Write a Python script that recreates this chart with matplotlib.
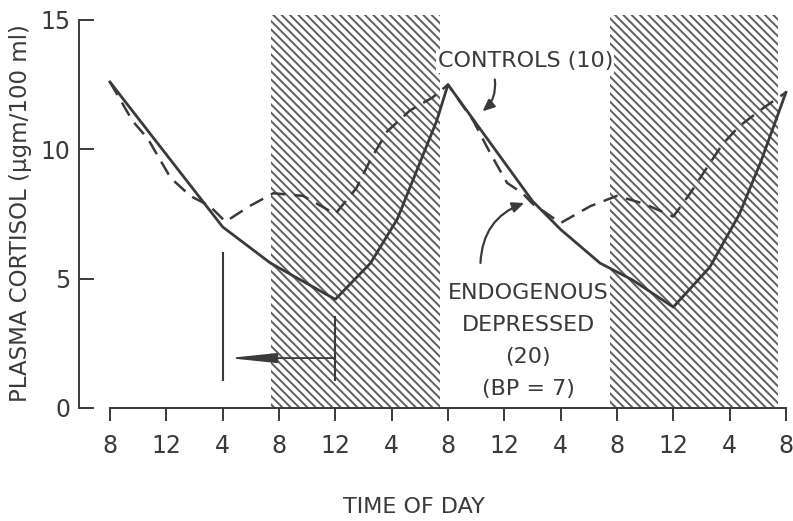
import numpy as np
import matplotlib
matplotlib.use('Agg')
import matplotlib.pyplot as plt

# hours after 8 a.m. of day 1
tick_hours = list(range(0, 49, 4))
tick_labels = ['8', '12', '4'] * 4 + ['8']
yticks = [0, 5, 10, 15]

# endogenous depressed patients (solid)
dep_hours = [0, 8, 11.4, 13.7, 16, 18.5, 20.4, 21.8, 23.2, 24,
             30, 32, 34.8, 37.1, 40, 42.6, 44.7, 46.2, 48]
dep_vals = [12.6, 7.0, 5.6, 4.9, 4.2, 5.6, 7.3, 9.2, 11.1, 12.5,
            8.0, 6.9, 5.6, 4.95, 3.9, 5.45, 7.5, 9.5, 12.2]

# controls (dashed)
ctl_hours = [0, 1.6, 2.7, 4.3, 5.7, 7.1, 8.2, 9.9, 11.6, 13.7, 16, 17.5,
             18.5, 19.7, 21.3, 22.9, 24, 25.8, 27, 28.2, 29.3, 30, 32, 34.1,
             36, 37.9, 40, 41.2, 42.4, 43.5, 44.7, 46.4, 48]
ctl_vals = [12.6, 11.1, 10.4, 8.9, 8.2, 7.8, 7.2, 7.8, 8.3, 8.2, 7.5, 8.5,
            9.6, 10.7, 11.5, 12.0, 12.5, 11.1, 9.85, 8.7, 8.3, 7.9, 7.15, 7.8,
            8.2, 7.9, 7.4, 8.3, 9.3, 10.2, 10.9, 11.6, 12.2]

# dark periods
night_spans = [(11.4, 23.4), (35.5, 47.4)]
night_top = 15.2

ink = '#3a3a3a'
plt.rcParams['hatch.linewidth'] = 1.4

fig = plt.figure(figsize=(7.93, 5.21), dpi=100)
ax = fig.add_axes([0.0996, 0.2169, 0.9004, 0.7647])
ax.set_xlim(-2.2, 48.5)
ax.set_ylim(0, 15.4)

for x0, x1 in night_spans:
    ax.fill_between([x0, x1], 0, night_top, facecolor='white',
                    edgecolor='#5e5e5e', hatch='\\\\\\\\', linewidth=0, zorder=0)

ax.plot(dep_hours, dep_vals, color=ink, lw=2.0, zorder=3)
ax.plot(ctl_hours, ctl_vals, color=ink, lw=1.8, dashes=(6, 3.5), zorder=3)

# labels with pointers
ax.text(29.5, 13.4, 'CONTROLS (10)', fontsize=16, color=ink, ha='center',
        va='center', zorder=5,
        bbox=dict(facecolor='white', edgecolor='none', pad=1))
ax.annotate('', xy=(26.3, 11.4), xytext=(27.3, 12.8),
            arrowprops=dict(arrowstyle='-|>,head_length=0.5,head_width=0.22',
                            connectionstyle='arc3,rad=-0.3', color=ink,
                            lw=1.6, mutation_scale=14), zorder=5)
ax.text(29.7, 2.6, 'ENDOGENOUS\nDEPRESSED\n(20)\n(BP = 7)', fontsize=16,
        color=ink, ha='center', va='center', linespacing=1.75, zorder=5,
        bbox=dict(facecolor='white', edgecolor='none', pad=1))
ax.annotate('', xy=(29.6, 7.96), xytext=(26.3, 5.5),
            arrowprops=dict(arrowstyle='-|>,head_length=0.5,head_width=0.22',
                            connectionstyle='arc3,rad=-0.35', color=ink,
                            lw=1.6, mutation_scale=14), zorder=5)

# phase shift marker
ax.plot([8, 8], [1.1, 6.0], color=ink, lw=1.5, zorder=4)
ax.plot([16, 16], [1.1, 3.5], color=ink, lw=1.5, zorder=4)
ax.annotate('', xy=(8.4, 1.93), xytext=(16, 1.93),
            arrowprops=dict(arrowstyle='-|>,head_length=2.9,head_width=0.3',
                            color=ink, lw=1.3, shrinkA=0, shrinkB=0), zorder=4)

for side in ['top', 'right']:
    ax.spines[side].set_visible(False)
ax.spines['left'].set_bounds(0, 15)
ax.spines['bottom'].set_bounds(0, 48)
for side in ['left', 'bottom']:
    ax.spines[side].set_color(ink)
    ax.spines[side].set_linewidth(1.4)

ax.set_xticks(tick_hours)
ax.set_xticklabels(tick_labels)
ax.set_yticks(yticks)
ax.tick_params(axis='x', direction='out', length=9, width=1.4, color=ink,
               labelsize=17, labelcolor=ink, pad=10)
ax.tick_params(axis='y', direction='in', length=11, width=1.4, color=ink,
               labelsize=17, labelcolor=ink, pad=6)

fig.text(0.522, 0.027, 'TIME OF DAY', fontsize=16, color=ink,
         ha='center', va='center')
fig.text(0.026, 0.591, 'PLASMA CORTISOL (\u03bcgm/100 ml)', fontsize=16.5,
         color=ink, ha='center', va='center', rotation=90)

fig.savefig('out.png', dpi=100)
